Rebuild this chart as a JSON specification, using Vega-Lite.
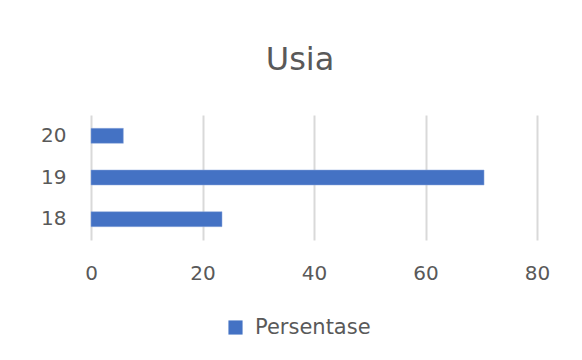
{
  "$schema": "https://vega.github.io/schema/vega-lite/v6.json",
  "autosize": "none",
  "width": 446,
  "height": 125,
  "padding": {"left": 91, "top": 115, "right": 45, "bottom": 120},
  "background": "white",
  "config": {
    "view": {"stroke": null},
    "font": "DejaVu Sans"
  },
  "title": {
    "text": "Usia",
    "fontSize": 32,
    "font": "DejaVu Sans",
    "fontWeight": "normal",
    "color": "#595959",
    "anchor": "middle",
    "dx": -14,
    "baseline": "alphabetic",
    "offset": 13
  },
  "data": {
    "values": [
      {"usia": "18", "persen": 23.5, "seri": "Persentase"},
      {"usia": "19", "persen": 70.5, "seri": "Persentase"},
      {"usia": "20", "persen": 5.8, "seri": "Persentase"}
    ]
  },
  "mark": {"type": "bar", "stroke": "#8faadc", "strokeWidth": 0.5},
  "encoding": {
    "y": {
      "field": "usia",
      "type": "nominal",
      "sort": "descending",
      "scale": {"paddingInner": 0.64, "paddingOuter": 0.32},
      "axis": {
        "title": null,
        "domain": false,
        "ticks": false,
        "labelFontSize": 20,
        "labelColor": "#595959",
        "labelPadding": 25,
        "labelFont": "DejaVu Sans"
      }
    },
    "x": {
      "field": "persen",
      "type": "quantitative",
      "scale": {"domain": [0, 80]},
      "axis": {
        "title": null,
        "values": [0, 20, 40, 60, 80],
        "domain": false,
        "ticks": false,
        "grid": true,
        "gridColor": "#d9d9d9",
        "gridWidth": 2,
        "labelFlush": false,
        "labelFontSize": 20,
        "labelColor": "#595959",
        "labelPadding": 23,
        "labelFont": "DejaVu Sans"
      }
    },
    "color": {
      "field": "seri",
      "type": "nominal",
      "scale": {"range": ["#4472c4"]},
      "legend": {
        "title": null,
        "orient": "none",
        "legendX": 134,
        "legendY": 202,
        "symbolType": "square",
        "symbolSize": 200,
        "symbolStrokeWidth": 0,
        "labelFontSize": 21,
        "labelColor": "#595959",
        "labelFont": "DejaVu Sans",
        "labelOffset": 9
      }
    }
  }
}
